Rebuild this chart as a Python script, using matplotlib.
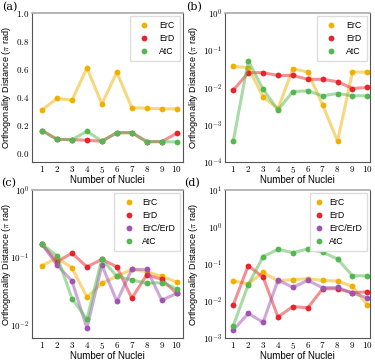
import matplotlib
matplotlib.use("Agg")
import matplotlib.pyplot as plt
from matplotlib.ticker import FixedLocator, FuncFormatter, NullLocator
import numpy as np

plt.rcParams['font.family'] = ['Liberation Sans', 'DejaVu Sans']
plt.rcParams['mathtext.fontset'] = 'cm'

nuclei = [1, 2, 3, 4, 5, 6, 7, 8, 9, 10]

# panel (a), linear
a_erc = [0.309, 0.392, 0.378, 0.608, 0.352, 0.577, 0.325, 0.321, 0.318, 0.316]
a_erd = [0.162, 0.100, 0.097, 0.093, 0.086, 0.147, 0.147, 0.083, 0.083, 0.143]
a_atc = [0.162, 0.100, 0.097, 0.157, 0.086, 0.147, 0.147, 0.083, 0.083, 0.081]

# panel (b), log
b_erc = [0.037, 0.034, 0.0056, 0.0027, 0.032, 0.026, 0.0034, 0.00036, 0.026, 0.026]
b_erd = [0.0085, 0.025, 0.025, 0.021, 0.021, 0.0166, 0.0166, 0.0143, 0.0094, 0.010]
b_atc = [0.00037, 0.052, 0.0089, 0.0025, 0.0078, 0.0081, 0.0060, 0.0069, 0.0060, 0.0060]

# panel (c), log
c_erc = [0.075, 0.097, 0.070, 0.0255, 0.041, 0.052, 0.066, 0.061, 0.052, 0.043]
c_erd = [0.156, 0.086, 0.115, 0.072, 0.093, 0.072, 0.0246, 0.055, 0.047, 0.029]
c_ercerd = [0.156, 0.077, 0.0445, 0.0088, 0.077, 0.022, 0.066, 0.066, 0.023, 0.029]
c_atc = [0.156, 0.105, 0.0243, 0.012, 0.094, 0.052, 0.046, 0.041, 0.042, 0.034]

# panel (d), log
d_erc = [0.035, 0.029, 0.059, 0.035, 0.038, 0.040, 0.036, 0.0346, 0.0248, 0.0079]
d_erd = [0.0079, 0.090, 0.044, 0.0037, 0.0071, 0.0065, 0.0214, 0.0214, 0.0167, 0.0177]
d_ercerd = [0.00165, 0.0046, 0.00266, 0.037, 0.0233, 0.036, 0.0228, 0.0233, 0.0163, 0.0122]
d_atc = [0.00216, 0.0275, 0.158, 0.25, 0.203, 0.255, 0.207, 0.137, 0.048, 0.048]

colors = {'ErC': '#f0b000', 'ErD': '#e8232b', 'ErC/ErD': '#a053b3', 'AtC': '#52b84f'}

W, H = 375, 360
fig = plt.figure(figsize=(3.75, 3.6), dpi=100)

# left, top, right, bottom in pixels
boxes = [(32, 13, 183, 162), (225, 13, 370, 162), (32, 190, 183, 338), (225, 190, 370, 338)]
tags = [('(a)', 2, 7), ('(b)', 186, 7), ('(c)', 1, 183), ('(d)', 184, 183)]

panels = [
    (False, [('ErC', a_erc), ('ErD', a_erd), ('AtC', a_atc)], (-0.062, 1.0), (0.33, 10.42)),
    (True, [('ErC', b_erc), ('ErD', b_erd), ('AtC', b_atc)], (1e-4, 1), (0.44, 10.18)),
    (True, [('ErC', c_erc), ('ErD', c_erd), ('ErC/ErD', c_ercerd), ('AtC', c_atc)], (6.3e-3, 1), (0.33, 10.42)),
    (True, [('ErC', d_erc), ('ErD', d_erd), ('ErC/ErD', d_ercerd), ('AtC', d_atc)], (1e-3, 10), (0.44, 10.18)),
]
leg_opts = [dict(handlelength=2.0, handletextpad=0.8),
            dict(handlelength=2.0, handletextpad=0.8),
            dict(handlelength=2.2, handletextpad=0.4),
            dict(handlelength=1.0, handletextpad=0.6)]

for i, ((l, t, r, b), (logy, series, ylim, xlim)) in enumerate(zip(boxes, panels)):
    ax = fig.add_axes([l / W, 1 - b / H, (r - l) / W, (b - t) / H])
    for name, vals in series:
        c = colors[name]
        ax.plot(nuclei, vals, color=c, alpha=0.5, lw=2.2, solid_capstyle='round')
        ax.plot(nuclei, vals, 'o', color=c, ms=4.2, mec='none', label=name)
    if logy:
        ax.set_yscale('log')
        lo = int(round(np.log10(ylim[0]) + 0.3))
        hi = int(round(np.log10(ylim[1])))
        ax.yaxis.set_major_locator(FixedLocator([10.0 ** k for k in range(lo, hi + 1)]))
        ax.yaxis.set_minor_locator(NullLocator())
        ax.yaxis.set_major_formatter(FuncFormatter(lambda v, p: r'$10^{%d}$' % round(np.log10(v))))
    else:
        ax.yaxis.set_major_locator(FixedLocator([0, 0.2, 0.4, 0.6, 0.8, 1.0]))
        ax.yaxis.set_major_formatter(FuncFormatter(lambda v, p: r'$%.1f$' % v))
    ax.set_ylim(*ylim)
    ax.set_xlim(*xlim)
    ax.set_xticks(nuclei)
    ax.xaxis.set_major_formatter(FuncFormatter(lambda v, p: r'$%d$' % v))
    ax.tick_params(length=0, labelsize=6.5)
    ax.tick_params(axis='x', pad=1.2)
    ax.tick_params(axis='y', pad=1.8)
    for s in ['left', 'bottom', 'right']:
        ax.spines[s].set_color('#555555')
        ax.spines[s].set_linewidth(0.8)
    ax.spines['top'].set_color('#aaaaaa')
    ax.spines['top'].set_linewidth(1.2)
    ax.set_xlabel('Number of Nuclei', fontsize=7.0)
    ax.xaxis.set_label_coords(0.5, -13.0 / (b - t))
    ax.set_ylabel(r'Orthogonality Distance ($\pi$ rad)', fontsize=6.6)
    lx = (13 - l) / (r - l) if i % 2 == 0 else (200 - l) / (r - l)
    ax.yaxis.set_label_coords(lx, 0.5)
    ax.legend(loc='upper right', fontsize=6.3, borderpad=0.6, labelspacing=0.45,
              fancybox=False, framealpha=1, edgecolor='#dddddd', borderaxespad=0.35,
              **leg_opts[i])
    tag, tx, ty = tags[i]
    fig.text(tx / W, 1 - ty / H, tag, fontsize=8, family='DejaVu Serif', va='center')

fig.savefig('out.png', dpi=100)
